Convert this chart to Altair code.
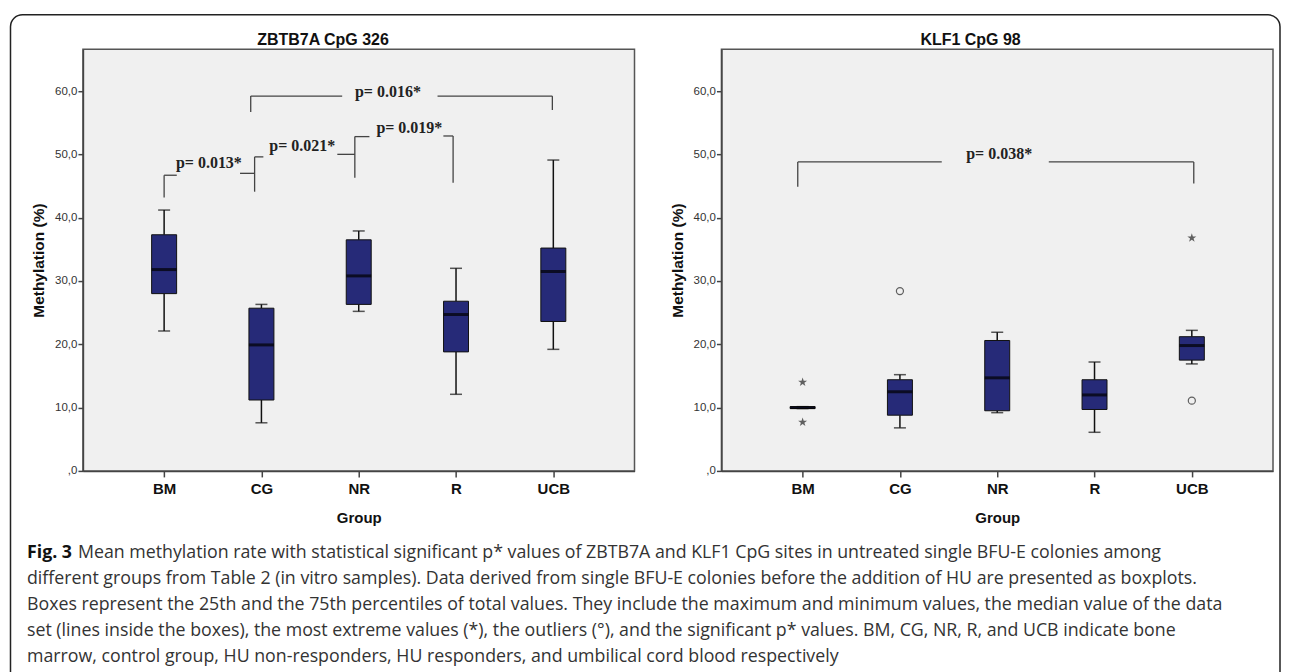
import altair as alt
import pandas as pd

groups = ["BM", "CG", "NR", "R", "UCB"]
positions = [1, 2, 3, 4, 5]
y_ticks = [0, 10, 20, 30, 40, 50, 60]

# ZBTB7A CpG 326
z_low = [22.1, 7.6, 25.2, 12.1, 19.2]
z_q1 = [28.0, 11.2, 26.3, 18.8, 23.6]
z_med = [31.8, 19.9, 30.8, 24.7, 31.5]
z_q3 = [37.3, 25.7, 36.5, 26.8, 35.2]
z_high = [41.2, 26.3, 37.9, 32.0, 49.1]

# KLF1 CpG 98
k_low = [9.85, 6.8, 9.2, 6.1, 16.9]
k_q1 = [9.85, 8.8, 9.5, 9.7, 17.5]
k_med = [10.0, 12.5, 14.7, 12.0, 19.8]
k_q3 = [10.15, 14.4, 20.6, 14.4, 21.2]
k_high = [10.15, 15.2, 21.9, 17.2, 22.2]
k_outlier_pos = [2, 5]
k_outlier_val = [28.4, 11.1]
k_extreme_pos = [1, 1, 5]
k_extreme_val = [14.0, 7.7, 36.8]

# significance brackets (left panel)
z_seg_x1 = [1.0, 1.0, 1.78, 1.93, 1.93, 2.78, 2.96, 2.96, 3.87, 3.97, 1.89, 1.89, 3.81, 4.99]
z_seg_x2 = [1.0, 1.13, 1.93, 1.93, 2.02, 2.96, 2.96, 3.11, 3.97, 3.97, 1.89, 2.83, 4.99, 4.99]
z_seg_y1 = [43.2, 46.7, 47.0, 44.1, 49.6, 50.0, 46.3, 52.8, 52.9, 45.5, 56.7, 59.2, 59.2, 57.0]
z_seg_y2 = [46.7, 46.7, 47.0, 49.6, 49.6, 50.0, 52.8, 52.8, 52.9, 52.9, 59.2, 59.2, 59.2, 59.2]
z_p_text = ["p= 0.013*", "p= 0.021*", "p= 0.019*", "p= 0.016*"]
z_p_x = [1.46, 2.42, 3.52, 3.30]
z_p_y = [48.6, 51.3, 54.1, 59.8]

# significance bracket (right panel)
k_seg_x1 = [0.95, 0.95, 3.53, 5.02]
k_seg_x2 = [0.95, 2.43, 5.02, 5.02]
k_seg_y1 = [44.9, 48.8, 48.8, 45.4]
k_seg_y2 = [48.8, 48.8, 48.8, 48.8]
k_p_text = ["p= 0.038*"]
k_p_x = [3.02]
k_p_y = [50.0]

caption_bold = "Fig. 3"
caption_lines = [
    "Mean methylation rate with statistical significant p* values of ZBTB7A and KLF1 CpG sites in untreated single BFU-E colonies among",
    "different groups from Table 2 (in vitro samples). Data derived from single BFU-E colonies before the addition of HU are presented as boxplots.",
    "Boxes represent the 25th and the 75th percentiles of total values. They include the maximum and minimum values, the median value of the data",
    "set (lines inside the boxes), the most extreme values (*), the outliers (\u00b0), and the significant p* values. BM, CG, NR, R, and UCB indicate bone",
    "marrow, control group, HU non-responders, HU responders, and umbilical cord blood respectively",
]

BOX_FILL = "#262A78"
STAR = "M0,-1L0.2245,-0.309L0.951,-0.309L0.363,0.118L0.588,0.809L0,0.382L-0.588,0.809L-0.363,0.118L-0.951,-0.309L-0.2245,-0.309Z"
CAP_FONT = 17.8

xs = alt.Scale(domain=[0.217, 5.783], nice=False, zero=False)
ys = alt.Scale(domain=[0, 66.6], nice=False, zero=False)
label_js = "[" + ",".join("'" + g + "'" for g in groups) + "][datum.value - 1]"
xa = alt.Axis(values=positions, labelExpr=label_js, title="Group", grid=False,
              labelFont="Liberation Sans", labelFontSize=15, labelFontWeight="bold", labelColor="#111",
              titleFont="Liberation Sans", titleFontSize=15, titleFontWeight="bold", titleColor="#111",
              tickSize=6, tickColor="#444", tickWidth=1.5, domainColor="#444", domainWidth=1.5,
              labelPadding=5, titlePadding=13.5)
ya = alt.Axis(values=y_ticks, labelExpr="datum.value == 0 ? ',0' : replace(format(datum.value, '.1f'), '.', ',')",
              title="Methylation (%)", grid=False,
              labelFont="Liberation Sans", labelFontSize=11.5, labelColor="#333",
              titleFont="Liberation Sans", titleFontSize=15.5, titleFontWeight="bold", titleColor="#111",
              tickSize=5, tickColor="#444", tickWidth=1.5, domainColor="#444", domainWidth=1.5,
              labelPadding=1, titlePadding=8)


def X(f):
    return alt.X(f, scale=xs, axis=xa)


def Y(f):
    return alt.Y(f, scale=ys, axis=ya)


one = pd.DataFrame({"a": [0]})


def panel(title, title_x, low, q1, med, q3, high, sx1, sx2, sy1, sy2, ptxt, px, py,
          out_pos=(), out_val=(), ext_pos=(), ext_val=(), extra=()):
    box = pd.DataFrame({"pos": positions, "low": low, "q1": q1, "med": med, "q3": q3, "high": high})
    seg = pd.DataFrame({"x1": sx1, "x2": sx2, "y1": sy1, "y2": sy2})
    txt = pd.DataFrame({"t": ptxt, "x": px, "y": py})
    base = alt.Chart(box)
    layers = [
        base.mark_rule(color="#111", strokeWidth=1.5).encode(x=X("pos:Q"), y=Y("low:Q"), y2="q1:Q"),
        base.mark_rule(color="#111", strokeWidth=1.5).encode(x=X("pos:Q"), y=Y("q3:Q"), y2="high:Q"),
        base.mark_tick(orient="horizontal", size=12, thickness=1.5, color="#111").encode(x=X("pos:Q"), y=Y("low:Q")),
        base.mark_tick(orient="horizontal", size=12, thickness=1.5, color="#111").encode(x=X("pos:Q"), y=Y("high:Q")),
        base.mark_bar(size=25, color=BOX_FILL, stroke="#111", strokeWidth=1).encode(x=X("pos:Q"), y=Y("q1:Q"), y2="q3:Q"),
        base.mark_tick(orient="horizontal", size=25, thickness=3, color="#000").encode(x=X("pos:Q"), y=Y("med:Q")),
        alt.Chart(seg).mark_rule(color="#444", strokeWidth=1.3).encode(x=X("x1:Q"), x2="x2:Q", y=Y("y1:Q"), y2="y2:Q"),
        alt.Chart(txt).mark_text(font="Liberation Serif", fontSize=16, fontWeight="bold", color="#222",
                                 align="center", baseline="middle").encode(x=X("x:Q"), y=Y("y:Q"), text="t:N"),
        alt.Chart(one).mark_text(font="Liberation Sans", fontSize=16, fontWeight="bold", color="#111",
                                 align="center", baseline="alphabetic", text=title).encode(
            x=alt.value(title_x), y=alt.value(-4.3)),
    ]
    if len(out_pos):
        od = pd.DataFrame({"pos": list(out_pos), "v": list(out_val)})
        layers.append(alt.Chart(od).mark_point(shape="circle", size=50, filled=False, color="#222", strokeWidth=1.2)
                      .encode(x=X("pos:Q"), y=Y("v:Q")))
    if len(ext_pos):
        ed = pd.DataFrame({"pos": list(ext_pos), "v": list(ext_val)})
        layers.append(alt.Chart(ed).mark_point(shape=STAR, size=90, filled=True, color="#222", strokeWidth=0)
                      .encode(x=X("pos:Q"), y=Y("v:Q")))
    layers.extend(extra)
    return alt.layer(*layers).properties(
        width=552, height=422,
        view=alt.ViewBackground(fill="#F0F0F0", stroke="#555", strokeWidth=1.5),
    )


# caption lines and outer rounded border, drawn from the left panel (outside its plot area)
cap_layers = [
    alt.Chart(one).mark_text(font="Open Sans", fontSize=CAP_FONT, fontWeight="bold", color="#111",
                             align="left", baseline="middle", text=caption_bold).encode(
        x=alt.value(-56), y=alt.value(504))
]
for i, line in enumerate(caption_lines):
    cap_layers.append(
        alt.Chart(one).mark_text(font="Open Sans", fontSize=CAP_FONT, color="#333",
                                 align="left", baseline="middle", text=line).encode(
            x=alt.value(-56 + (51 if i == 0 else 0)), y=alt.value(504 + 26 * i))
    )
cap_layers.append(
    alt.Chart(one).mark_rect(cornerRadius=12, fillOpacity=0, stroke="#222", strokeWidth=1.5).encode(
        x=alt.value(-72.5), x2=alt.value(1198), y=alt.value(-34.5), y2=alt.value(660))
)

left = panel("ZBTB7A CpG 326", 240.3, z_low, z_q1, z_med, z_q3, z_high,
             z_seg_x1, z_seg_x2, z_seg_y1, z_seg_y2, z_p_text, z_p_x, z_p_y, extra=cap_layers)
right = panel("KLF1 CpG 98", 249.3, k_low, k_q1, k_med, k_q3, k_high,
              k_seg_x1, k_seg_x2, k_seg_y1, k_seg_y2, k_p_text, k_p_x, k_p_y,
              k_outlier_pos, k_outlier_val, k_extreme_pos, k_extreme_val)

chart = alt.hconcat(left, right, spacing=87, bounds="flush").properties(
    padding={"left": 1, "top": 5, "right": 0, "bottom": 0}
).configure_view(strokeWidth=0)

chart.save("out.html", embed_options={"renderer": "svg", "actions": False})
